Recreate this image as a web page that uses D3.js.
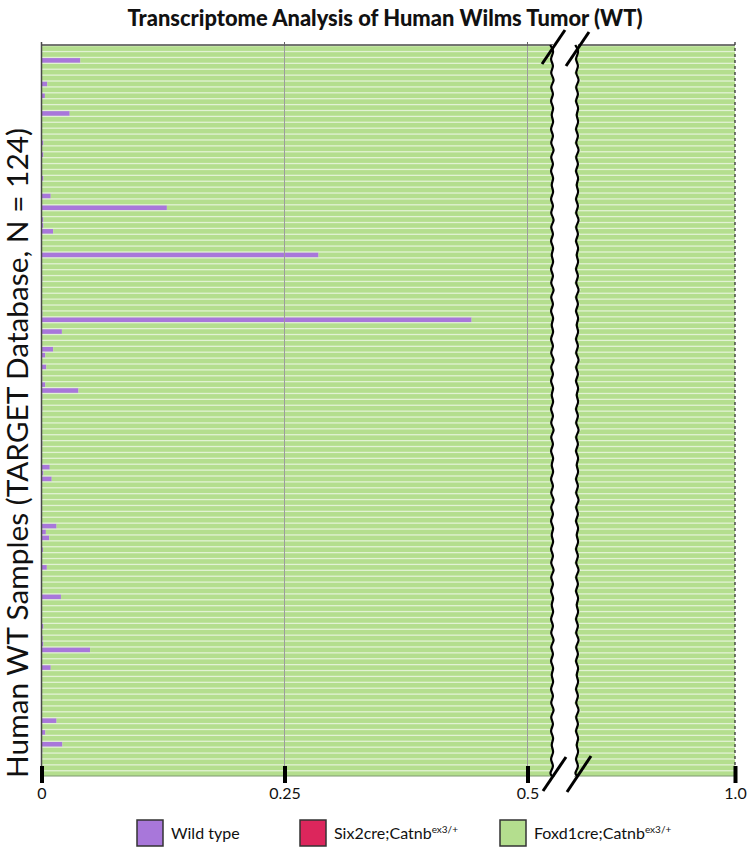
<!DOCTYPE html>
<html>
<head>
<meta charset="utf-8">
<script src="https://cdn.jsdelivr.net/npm/d3@7"></script>
<style>
  body { margin: 0; background: #fff; }
  text { font-family: Lato, "Open Sans", sans-serif; fill: #111; }
</style>
</head>
<body>
<svg width="750" height="863"></svg>
<script>
// chart text
const chartTitle = "Transcriptome Analysis of Human Wilms Tumor (WT)";
const yTitle = "Human WT Samples (TARGET Database, N = 124)";

// series
const seriesKeys = ["wildType", "six2cre", "foxd1cre"];
const seriesNames = ["Wild type", "Six2cre;Catnb", "Foxd1cre;Catnb"];
const seriesSup = ["", "ex3/+", "ex3/+"];
const seriesColors = ["#a877da", "#dc265c", "#b4de8e"];

// x axis ticks (broken axis: left part and right part)
const ticksLeft = [0, 0.25, 0.5];
const tickLabelsLeft = ["0", "0.25", "0.5"];
const ticksRight = [1.0];
const tickLabelsRight = ["1.0"];

// fraction of wild type signature, one value per sample (top to bottom)
const wildType = [
  0, 0, 0.040, 0, 0, 0, 0.006, 0, 0.0035, 0,
  0, 0.029, 0, 0, 0, 0, 0.002, 0, 0.002, 0,
  0, 0, 0.002, 0, 0, 0.0095, 0, 0.129, 0, 0.002,
  0.002, 0.012, 0, 0, 0, 0.285, 0, 0, 0, 0.001,
  0, 0, 0, 0, 0, 0.001, 0.4425, 0, 0.021, 0,
  0, 0.012, 0.004, 0, 0.005, 0, 0.001, 0.004, 0.038, 0.001,
  0, 0.001, 0, 0, 0, 0, 0, 0.001, 0, 0,
  0, 0.0085, 0.002, 0.0105, 0, 0, 0, 0, 0, 0,
  0, 0.0155, 0.0045, 0.008, 0, 0.0015, 0, 0, 0.0055, 0,
  0, 0, 0, 0.020, 0, 0, 0, 0, 0.002, 0,
  0.0013, 0.002, 0.050, 0, 0, 0.0095, 0, 0, 0, 0,
  0, 0, 0, 0, 0.0155, 0, 0.004, 0, 0.0215, 0.001,
  0, 0, 0, 0
];

// Six2cre signature: nothing visible in any sample
const six2cre = [
  0, 0, 0, 0, 0, 0, 0, 0, 0, 0,
  0, 0, 0, 0, 0, 0, 0, 0, 0, 0,
  0, 0, 0, 0, 0, 0, 0, 0, 0, 0,
  0, 0, 0, 0, 0, 0, 0, 0, 0, 0,
  0, 0, 0, 0, 0, 0, 0, 0, 0, 0,
  0, 0, 0, 0, 0, 0, 0, 0, 0, 0,
  0, 0, 0, 0, 0, 0, 0, 0, 0, 0,
  0, 0, 0, 0, 0, 0, 0, 0, 0, 0,
  0, 0, 0, 0, 0, 0, 0, 0, 0, 0,
  0, 0, 0, 0, 0, 0, 0, 0, 0, 0,
  0, 0, 0, 0, 0, 0, 0, 0, 0, 0,
  0, 0, 0, 0, 0, 0, 0, 0, 0, 0,
  0, 0, 0, 0
];

const samples = wildType.map((d, i) => "WT-" + (i + 1));

// Foxd1cre is the rest of each sample (stack sums to 1)
const rows = samples.map((s, i) => ({
  sample: s,
  wildType: wildType[i],
  six2cre: six2cre[i],
  foxd1cre: 1 - wildType[i] - six2cre[i]
}));

const svg = d3.select("svg");
const plotTop = 45, plotBottom = 776;
const leftX = 41.5, breakL = 553, breakR = 578, rightX = 735;

const xL = d3.scaleLinear().domain([0, 0.5]).range([leftX, 527.5]);
const xR = d3.scaleLinear().domain([0.95, 1.0]).range([breakR, rightX]);
const y = d3.scaleBand().domain(samples).range([plotTop, plotBottom]);

const stack = d3.stack().keys(seriesKeys)(rows);

const defs = svg.append("defs");
defs.append("clipPath").attr("id", "clipL")
  .append("rect").attr("x", leftX).attr("y", plotTop).attr("width", breakL + 4 - leftX).attr("height", plotBottom - plotTop);
defs.append("clipPath").attr("id", "clipR")
  .append("rect").attr("x", breakR - 4).attr("y", plotTop).attr("width", rightX - breakR + 4).attr("height", plotBottom - plotTop);

// light background shows through as the row separators
svg.append("rect")
  .attr("x", leftX).attr("y", plotTop).attr("width", rightX - leftX).attr("height", plotBottom - plotTop)
  .attr("fill", "#e2f2d4");

function drawBars(x, clip) {
  const g = svg.append("g").attr("clip-path", `url(#${clip})`);
  g.selectAll("g")
    .data(stack)
    .join("g")
    .attr("fill", (d, i) => seriesColors[i])
    .selectAll("rect")
    .data(d => d)
    .join("rect")
    .attr("x", d => x(d[0]))
    .attr("y", d => y(d.data.sample) + 1.3)
    .attr("width", d => Math.max(0, x(d[1]) - x(d[0])))
    .attr("height", y.bandwidth() - 1.3);
}
drawBars(xL, "clipL");
drawBars(xR, "clipR");

// gridlines
svg.append("g").selectAll("line")
  .data([0.25, 0.5])
  .join("line")
  .attr("x1", d => xL(d)).attr("x2", d => xL(d))
  .attr("y1", plotTop).attr("y2", plotBottom)
  .attr("stroke", "#9c9c9c").attr("stroke-width", 1);

// frame lines
svg.append("line").attr("x1", leftX).attr("x2", breakL).attr("y1", plotTop).attr("y2", plotTop)
  .attr("stroke", "#4a4a4a").attr("stroke-width", 1.5);
svg.append("line").attr("x1", breakR).attr("x2", rightX).attr("y1", plotTop).attr("y2", plotTop)
  .attr("stroke", "#4a4a4a").attr("stroke-width", 1.5);
svg.append("line").attr("x1", leftX).attr("x2", leftX).attr("y1", plotTop - 3).attr("y2", plotBottom)
  .attr("stroke", "#4a4a4a").attr("stroke-width", 1.5);
svg.append("line").attr("x1", rightX).attr("x2", rightX).attr("y1", plotTop - 3).attr("y2", plotBottom)
  .attr("stroke", "#333").attr("stroke-width", 1.3).attr("stroke-dasharray", "3,3");
svg.append("line").attr("x1", leftX).attr("x2", rightX).attr("y1", plotBottom).attr("y2", plotBottom)
  .attr("stroke", "#7f9a70").attr("stroke-width", 1.2);
svg.append("g").selectAll("line")
  .data([0.25, 0.5])
  .join("line")
  .attr("x1", d => xL(d)).attr("x2", d => xL(d))
  .attr("y1", plotTop - 3).attr("y2", plotTop)
  .attr("stroke", "#666");

// bottom axes with heavy ticks
function styleAxis(g) {
  g.select(".domain").remove();
  g.selectAll(".tick line").attr("stroke", "#000").attr("stroke-width", 4);
  g.selectAll(".tick text").attr("font-size", 16).attr("fill", "#111")
    .attr("font-family", "Lato, 'Open Sans', sans-serif");
}
svg.append("g")
  .attr("transform", `translate(0,${plotBottom - 10})`)
  .call(d3.axisBottom(xL).tickValues(ticksLeft).tickSize(17).tickPadding(5)
    .tickFormat((d, i) => tickLabelsLeft[i]))
  .call(styleAxis);
svg.append("g")
  .attr("transform", `translate(0,${plotBottom - 10})`)
  .call(d3.axisBottom(xR).tickValues(ticksRight).tickSize(17).tickPadding(5)
    .tickFormat((d, i) => tickLabelsRight[i]))
  .call(styleAxis);

// axis break: white gap with wavy edges and slashes
const wave = d3.line().curve(d3.curveBasis);
function wavyPoints(x0) {
  const pts = [];
  let k = 0;
  for (let yy = plotTop; yy <= plotBottom; yy += 7) {
    pts.push([x0 + (k % 2 ? 2.8 : -2.8) + (k % 5 === 0 ? 1 : 0), yy]);
    k++;
  }
  pts.push([x0, plotBottom]);
  return pts;
}
const wl = wavyPoints(breakL - 1);
const wr = wavyPoints(breakR - 1);
svg.append("path")
  .attr("d", wave(wl) + "L" + wr.slice().reverse().map(p => p.join(",")).join("L") + "Z")
  .attr("fill", "#fff");
svg.append("rect")
  .attr("x", breakL + 2).attr("y", plotTop - 2).attr("width", breakR - breakL - 6).attr("height", plotBottom - plotTop + 4)
  .attr("fill", "#fff");
[wl, wr].forEach(pts => {
  svg.append("path").attr("d", wave(pts))
    .attr("fill", "none").attr("stroke", "#000").attr("stroke-width", 2.2);
});
const slashes = [
  [[542, 64], [565, 30]], [[566, 66], [589, 32]],
  [[543, 791], [566, 757]], [[567, 792], [591, 756]]
];
svg.append("g").selectAll("line")
  .data(slashes)
  .join("line")
  .attr("x1", d => d[0][0]).attr("y1", d => d[0][1])
  .attr("x2", d => d[1][0]).attr("y2", d => d[1][1])
  .attr("stroke", "#000").attr("stroke-width", 3);

// title
const t = svg.append("text")
  .attr("x", 385).attr("y", 26)
  .attr("text-anchor", "middle")
  .attr("font-weight", 900)
  .attr("font-size", 22)
  .text(chartTitle);
const tLen = t.node().getComputedTextLength();
t.attr("font-size", 22 * 515 / tLen);

// y axis title
const yt = svg.append("text")
  .attr("transform", "translate(16,453) rotate(-90)")
  .attr("text-anchor", "middle")
  .attr("dominant-baseline", "central")
  .attr("font-size", 22)
  .text(yTitle);
const yLen = yt.node().getComputedTextLength();
yt.attr("font-size", Math.min(30, 22 * 650 / yLen));

// legend
const legendX = [137, 300, 500];
const legend = svg.append("g").selectAll("g")
  .data(seriesKeys)
  .join("g")
  .attr("transform", (d, i) => `translate(${legendX[i]},820)`);
legend.append("rect")
  .attr("width", 26).attr("height", 26)
  .attr("fill", (d, i) => seriesColors[i])
  .attr("stroke", "#333").attr("stroke-width", 1.5);
const lt = legend.append("text")
  .attr("x", 34).attr("y", 19)
  .attr("font-size", 16);
lt.append("tspan").text((d, i) => seriesNames[i]);
lt.append("tspan")
  .attr("dy", -6)
  .attr("font-size", 10)
  .text((d, i) => seriesSup[i]);
</script>
</body>
</html>
